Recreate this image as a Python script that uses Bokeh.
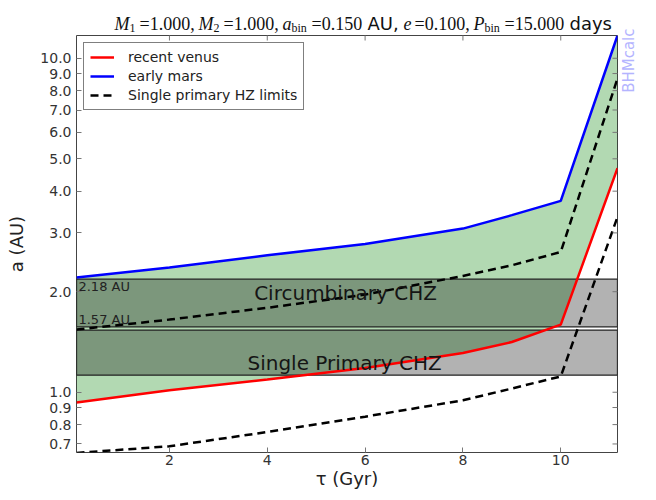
import math
from bokeh.plotting import figure
from bokeh.models import (Range1d, FixedTicker, PrintfTickFormatter, Label, Legend, LegendItem)
from bokeh.layouts import column, row
from bokeh.embed import file_html
from bokeh.resources import INLINE

# ---------------- data ----------------
tau = [0.1, 2.0, 4.0, 6.0, 8.0, 9.0, 10.0, 11.16]
recent_venus = [0.931, 1.014, 1.092, 1.182, 1.31, 1.414, 1.594, 4.69]
early_mars = [2.205, 2.362, 2.57, 2.78, 3.09, 3.39, 3.74, 11.7]
hz_outer = [1.54, 1.65, 1.79, 1.96, 2.23, 2.40, 2.63, 8.7]
hz_inner = [0.658, 0.689, 0.76, 0.845, 0.946, 1.026, 1.115, 3.35]
circumbinary_chz = [1.57, 2.18]
single_primary_chz = [1.125, 1.535]
x_ticks = [2, 4, 6, 8, 10]
y_ticks = [0.7, 0.8, 0.9, 1.0, 2.0, 3.0, 4.0, 5.0, 6.0, 7.0, 8.0, 9.0, 10.0]
x_lim = [0.1, 11.16]
y_lim = [0.66, 11.7]

# page geometry (px)
W, H = 656, 500
FL, FT, FR, FB = 76, 35, 617, 452
MAIN_W = 618

# ---------------- main plot ----------------
p = figure(width=MAIN_W, height=H - FT, x_range=Range1d(*x_lim), y_range=Range1d(*y_lim),
           y_axis_type="log", output_backend="svg", toolbar_location=None, title=None,
           min_border_left=FL, min_border_right=MAIN_W - FR, min_border_top=0,
           min_border_bottom=H - FB)
p.background_fill_color = "white"
p.border_fill_color = "white"
p.outline_line_color = "#444444"
p.outline_line_width = 1
p.xgrid.visible = False
p.ygrid.visible = False

# green HZ fill
p.varea(x=tau, y1=recent_venus, y2=early_mars, fill_color="green", fill_alpha=0.3)

# CHZ bands
for band in (single_primary_chz, circumbinary_chz):
    p.quad(left=x_lim[0], right=x_lim[1], bottom=band[0], top=band[1],
           fill_color="black", fill_alpha=0.3, line_color="#222222", line_width=1.3)

r_red = p.line(tau, recent_venus, line_color="red", line_width=2.5)
r_blue = p.line(tau, early_mars, line_color="blue", line_width=2.5)
r_out = p.line(tau, hz_outer, line_color="black", line_width=2.5, line_dash="8 5")
r_in = p.line(tau, hz_inner, line_color="black", line_width=2.5, line_dash="8 5")

# mirrored inward ticks on top and right edges (half of each dash is clipped)
p.scatter(x=x_ticks, y=[y_lim[1]] * len(x_ticks), marker="dash", angle=math.pi / 2,
          size=10, line_color="#777777", line_width=1)
p.scatter(x=[x_lim[1]] * len(y_ticks), y=y_ticks, marker="dash",
          size=10, line_color="#777777", line_width=1)

xt = FixedTicker(ticks=x_ticks, minor_ticks=[])
yt = FixedTicker(ticks=y_ticks, minor_ticks=[])
p.xaxis.ticker = xt
p.yaxis.ticker = yt
p.yaxis.formatter = PrintfTickFormatter(format="%.1f")
for ax in p.xaxis + p.yaxis:
    ax.axis_line_color = None
    ax.major_tick_in = 5
    ax.major_tick_out = 0
    ax.minor_tick_in = 0
    ax.minor_tick_out = 0
    ax.major_tick_line_color = "#777777"
    ax.major_label_text_font = "DejaVu Sans"
    ax.major_label_text_font_size = "14px"
    ax.major_label_text_color = "#333333"
    ax.major_label_standoff = 5
    ax.axis_label_text_font = "DejaVu Sans"
    ax.axis_label_text_font_size = "18px"
    ax.axis_label_text_font_style = "normal"
    ax.axis_label_text_color = "#222222"
p.xaxis.major_label_standoff = 2
p.xaxis.axis_label = "τ (Gyr)"
p.yaxis.axis_label = "a (AU)"
p.xaxis.axis_label_standoff = 0
p.yaxis.axis_label_standoff = 10

# legend
legend = Legend(items=[LegendItem(label="recent venus", renderers=[r_red]),
                       LegendItem(label="early mars", renderers=[r_blue]),
                       LegendItem(label="Single primary HZ limits", renderers=[r_out])],
                location="top_left")
legend.margin = 7
legend.padding = 6
legend.spacing = 3
legend.label_height = 16
legend.glyph_height = 16
legend.glyph_width = 24
legend.label_standoff = 14
legend.label_text_font = "DejaVu Sans"
legend.label_text_font_size = "14px"
legend.label_text_color = "#222222"
legend.border_line_color = "black"
legend.border_line_width = 1
legend.background_fill_color = "white"
legend.background_fill_alpha = 1
p.add_layout(legend)

# band texts
p.add_layout(Label(x=5.6, y=1.98, text="Circumbinary CHZ", text_align="center",
                   text_baseline="alphabetic", text_font="DejaVu Sans",
                   text_font_size="20px", text_color="#151515"))
p.add_layout(Label(x=5.58, y=1.22, text="Single Primary CHZ", text_align="center",
                   text_baseline="alphabetic", text_font="DejaVu Sans",
                   text_font_size="20px", text_color="#151515"))
p.add_layout(Label(x=0.14, y=circumbinary_chz[1], text="%.2f AU" % circumbinary_chz[1],
                   text_align="left", text_baseline="top", text_font="DejaVu Sans",
                   text_font_size="13px", text_color="#222222"))
p.add_layout(Label(x=0.14, y=circumbinary_chz[0], text="%.2f AU" % circumbinary_chz[0],
                   text_align="left", text_baseline="bottom", text_font="DejaVu Sans",
                   text_font_size="13px", text_color="#222222"))

# ---------------- helper for text-only strips (pixel coordinates) ----------------
def blank_fig(w, h, xr, yr, left=0, right=0):
    f = figure(width=w, height=h, x_range=Range1d(*xr), y_range=Range1d(*yr),
               output_backend="svg", toolbar_location=None, title=None,
               x_axis_location=None, y_axis_location=None,
               min_border=0, min_border_left=left, min_border_right=right,
               min_border_top=0, min_border_bottom=0)
    f.outline_line_color = None
    f.xgrid.visible = False
    f.ygrid.visible = False
    f.background_fill_color = "white"
    f.border_fill_color = "white"
    return f

# title strip: same side borders as the main plot, x measured in page pixels
tf = blank_fig(MAIN_W, FT, (FL, FR), (FT, 0), left=FL, right=MAIN_W - FR)
SERIF = "Liberation Serif"
SANS = "DejaVu Sans"
title_parts = [
    ("M", 114, SERIF, "italic", 18, 0),
    ("1", 129, SERIF, "normal", 12, 4),
    ("=1.000,", 139, SERIF, "normal", 18, 0),
    ("M", 198, SERIF, "italic", 18, 0),
    ("2", 213, SERIF, "normal", 12, 4),
    ("=1.000,", 223, SERIF, "normal", 18, 0),
    ("a", 282, SERIF, "italic", 18, 0),
    ("bin", 291, SERIF, "normal", 12, 4),
    ("=0.150", 311, SERIF, "normal", 18, 0),
    ("AU,", 367, SANS, "normal", 18, 0),
    ("e", 403, SERIF, "italic", 18, 0),
    ("=0.100,", 414, SERIF, "normal", 18, 0),
    ("P", 473, SERIF, "italic", 18, 0),
    ("bin", 484, SERIF, "normal", 12, 4),
    ("=15.000", 504, SERIF, "normal", 18, 0),
    ("days", 569, SANS, "normal", 18, 0),
]
baseline_py = 23
for txt, px, font, style, size, dy in title_parts:
    tf.add_layout(Label(x=px, y=baseline_py + dy, text=txt, text_align="left",
                        text_baseline="alphabetic", text_font=font,
                        text_font_style=style, text_font_size="%dpx" % size,
                        text_color="#111111"))

# right strip with watermark
sf = blank_fig(W - MAIN_W, H, (MAIN_W, W), (H, 0))
sf.add_layout(Label(x=619, y=28, text="BHMcalc", angle=math.pi / 2,
                    text_align="right", text_baseline="top", text_font="DejaVu Sans",
                    text_font_size="15px", text_color="#b4b4ff"))

layout = row(column(tf, p, spacing=0), sf, spacing=0)
open("out.html", "w").write(file_html(layout, INLINE))
